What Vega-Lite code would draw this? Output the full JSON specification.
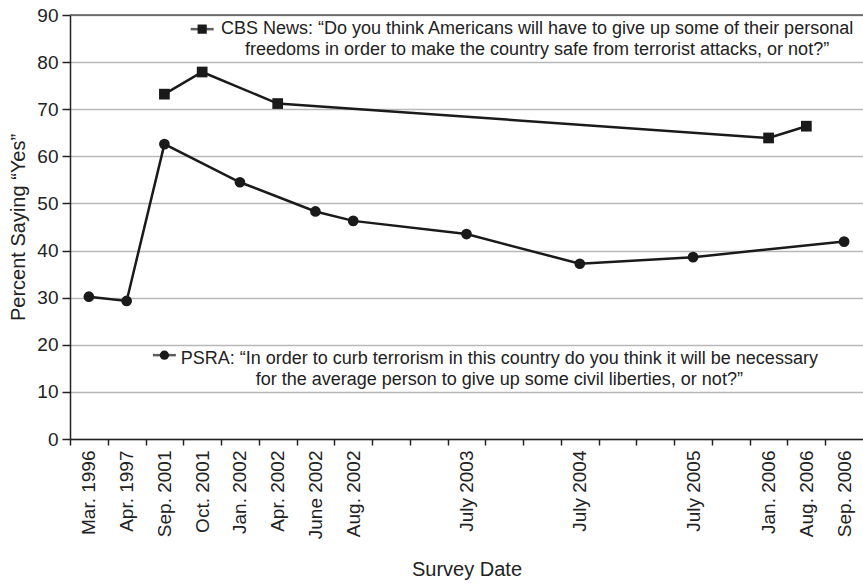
{
  "$schema": "https://vega.github.io/schema/vega-lite/v6.json",
  "description": "Percent saying Yes to giving up freedoms / civil liberties, CBS News and PSRA polls",
  "background": "white",
  "autosize": {"type": "none"},
  "width": 793,
  "height": 424,
  "padding": {"left": 70, "top": 15, "right": 0, "bottom": 145},
  "config": {
    "font": "Liberation Sans",
    "view": {"stroke": null},
    "axis": {
      "labelFont": "Liberation Sans",
      "titleFont": "Liberation Sans",
      "labelColor": "#222",
      "titleColor": "#222",
      "titleFontWeight": "normal",
      "domainColor": "#222",
      "domainWidth": 1.5,
      "tickColor": "#222",
      "tickWidth": 1.5
    }
  },
  "datasets": {
    "polls": [
      {"series": "PSRA", "date": "Mar. 1996", "pct": 30.2},
      {"series": "PSRA", "date": "Apr. 1997", "pct": 29.3},
      {"series": "PSRA", "date": "Sep. 2001", "pct": 62.6},
      {"series": "PSRA", "date": "Jan. 2002", "pct": 54.5},
      {"series": "PSRA", "date": "June 2002", "pct": 48.3},
      {"series": "PSRA", "date": "Aug. 2002", "pct": 46.3},
      {"series": "PSRA", "date": "July 2003", "pct": 43.5},
      {"series": "PSRA", "date": "July 2004", "pct": 37.2},
      {"series": "PSRA", "date": "July 2005", "pct": 38.6},
      {"series": "PSRA", "date": "Sep. 2006", "pct": 41.9},
      {"series": "CBS", "date": "Sep. 2001", "pct": 73.2},
      {"series": "CBS", "date": "Oct. 2001", "pct": 77.9},
      {"series": "CBS", "date": "Apr. 2002", "pct": 71.2},
      {"series": "CBS", "date": "Jan. 2006", "pct": 63.9},
      {"series": "CBS", "date": "Aug. 2006", "pct": 66.4}
    ],
    "keys": [
      {"series": "CBS", "date": "Oct. 2001", "pct": 87.0, "anchor": "    ", "line1": 86.0,
       "label": ["CBS News: “Do you think Americans will have to give up some of their personal", "freedoms in order to make the country safe from terrorist attacks, or not?”"]},
      {"series": "PSRA", "date": "Sep. 2001", "pct": 17.8, "anchor": "   ", "line1": 15.9,
       "label": ["PSRA: “In order to curb terrorism in this country do you think it will be necessary", "for the average person to give up some civil liberties, or not?”"]}
    ]
  },
  "encoding": {
    "y": {
      "field": "pct",
      "type": "quantitative",
      "scale": {"domain": [0, 90], "nice": false},
      "axis": {
        "title": "Percent Saying “Yes”",
        "titleFontSize": 20,
        "titlePadding": 8,
        "labelFontSize": 19,
        "labelPadding": 4,
        "tickSize": 8,
        "values": [0, 10, 20, 30, 40, 50, 60, 70, 80, 90],
        "grid": true,
        "gridColor": "#b8b8b8",
        "gridWidth": 1.5
      }
    }
  },
  "layer": [
    {
      "data": {"values": [{"top": 90}]},
      "mark": {"type": "rule", "color": "#555", "strokeWidth": 1.5},
      "encoding": {"y": {"field": "top", "type": "quantitative"}}
    },
    {
      "data": {"name": "polls"},
      "mark": {"type": "line", "color": "#1a1a1a", "strokeWidth": 2.5},
      "encoding": {
        "x": {
          "field": "date",
          "type": "nominal",
          "scale": {
            "domain": ["Mar. 1996", "Apr. 1997", "Sep. 2001", "Oct. 2001", "Jan. 2002", "Apr. 2002", "June 2002", "Aug. 2002", " ", "  ", "July 2003", "   ", "    ", "July 2004", "     ", "      ", "July 2005", "       ", "Jan. 2006", "Aug. 2006", "Sep. 2006"],
            "paddingInner": 0,
            "paddingOuter": 0
          },
          "axis": {
            "title": "Survey Date",
            "titleFontSize": 20,
            "titlePadding": 21,
            "labelFontSize": 19,
            "labelAngle": 270,
            "labelPadding": 5,
            "tickSize": 6,
            "tickOffset": -18.88,
            "labelOffset": 18.88,
            "grid": false
          }
        },
        "detail": {"field": "series", "type": "nominal"},
        "order": {"value": null}
      }
    },
    {
      "data": {"name": "polls"},
      "mark": {"type": "point", "filled": true, "color": "#1a1a1a", "opacity": 1, "size": 115},
      "encoding": {
        "x": {"field": "date", "type": "nominal"},
        "shape": {"field": "series", "type": "nominal", "scale": {"domain": ["CBS", "PSRA"], "range": ["square", "circle"]}, "legend": null}
      }
    },
    {
      "data": {"name": "keys"},
      "mark": {"type": "tick", "color": "#1a1a1a", "size": 23, "thickness": 2.5},
      "encoding": {"x": {"field": "date", "type": "nominal"}}
    },
    {
      "data": {"name": "keys"},
      "mark": {"type": "point", "filled": true, "color": "#1a1a1a", "opacity": 1, "size": 85},
      "encoding": {
        "x": {"field": "date", "type": "nominal"},
        "shape": {"field": "series", "type": "nominal", "legend": null}
      }
    },
    {
      "data": {"name": "keys"},
      "mark": {"type": "text", "align": "center", "baseline": "alphabetic", "fontSize": 18, "lineHeight": 21, "color": "#222", "dx": -5},
      "encoding": {
        "x": {"field": "anchor", "type": "nominal"},
        "y": {"field": "line1", "type": "quantitative"},
        "text": {"field": "label"}
      }
    }
  ]
}
